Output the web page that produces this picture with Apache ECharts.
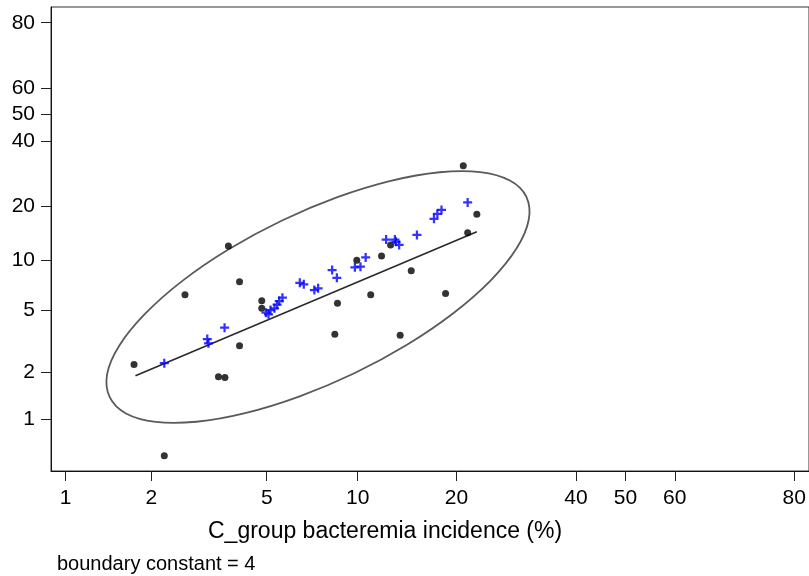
<!DOCTYPE html>
<html>
<head>
<meta charset="utf-8">
<script src="https://cdn.jsdelivr.net/npm/echarts@6/dist/echarts.min.js"></script>
<style>html,body{margin:0;padding:0;background:#fff}#c{width:809px;height:576px}</style>
</head>
<body>
<div id="c"></div>
<script>
// Tick labels (percent)
const xTicks = [1, 2, 5, 10, 20, 40, 50, 60, 80];
const yTicks = [1, 2, 5, 10, 20, 40, 50, 60, 80];

// Black dots (x %, y %)
const dotX = [3.70, 4.04, 2.62, 4.04, 1.74, 3.42, 3.60, 2.22, 4.81, 4.81, 8.60, 8.43, 9.93, 20.9, 22.8, 21.5, 12.7, 11.9, 14.7, 11.0, 18.6, 13.6];
const dotY = [12.1, 7.45, 6.20, 2.97, 2.26, 1.88, 1.86, 0.58, 5.70, 5.11, 5.49, 3.51, 10.0, 31.6, 18.2, 14.4, 12.3, 10.6, 8.68, 6.20, 6.30, 3.46];

// Blue plus markers (x %, y %)
const plusX = [2.22, 3.13, 3.16, 3.59, 4.97, 5.07, 5.15, 5.31, 5.42, 5.51, 5.65, 6.46, 6.66, 7.22, 7.43, 8.26, 8.56, 9.79, 10.2, 10.6, 12.3, 13.1, 13.2, 13.5, 15.3, 17.2, 17.6, 18.1, 21.5];
const plusY = [2.30, 3.28, 3.08, 3.87, 4.80, 4.69, 4.99, 5.11, 5.38, 5.67, 5.95, 7.34, 7.18, 6.63, 6.79, 8.76, 7.87, 9.09, 9.17, 10.4, 13.2, 13.2, 12.8, 12.3, 14.0, 17.2, 18.3, 19.2, 21.0];

// Fitted line endpoints
const fitX = [1.76, 22.8];
const fitY = [1.91, 14.6];

// Ellipse outline (x %, y %)
const ellipseX = [30.73, 31.13, 29.05, 24.92, 19.62, 14.27, 9.75, 6.42, 4.22, 2.87, 2.07, 1.63, 1.43, 1.40, 1.544, 1.90, 2.56, 3.71, 5.61, 8.55, 12.71, 17.87, 23.30, 27.92];
const ellipseY = [22.46, 16.96, 11.75, 7.62, 4.785, 3.018, 1.984, 1.404, 1.097, 0.964, 0.962, 1.091, 1.390, 1.960, 2.976, 4.716, 7.51, 11.60, 16.79, 22.29, 26.91, 29.55, 29.59, 27.02];

const logit = p => { const q = p / 100; return Math.log(q / (1 - q)); };
const inv = v => Math.round(100 / (1 + Math.exp(-v)));
const pts = (xs, ys) => xs.map((x, i) => [logit(x), logit(ys[i])]);

const ell = pts(ellipseX, ellipseY);

const FONT = "'Liberation Sans', Arial, sans-serif";
const chart = echarts.init(document.getElementById('c'));
chart.setOption({
  animation: false,
  backgroundColor: '#fff',
  textStyle: { fontFamily: FONT },
  title: [
    { text: 'C_group bacteremia incidence (%)', left: 203, top: 515,
      textStyle: { fontFamily: FONT, fontSize: 23, fontWeight: 'normal', color: '#000' } },
    { text: 'boundary constant = 4', left: 52, top: 549,
      textStyle: { fontFamily: FONT, fontSize: 20, fontWeight: 'normal', color: '#000' } }
  ],
  grid: { left: 51, top: 7, width: 761, height: 464, show: true, borderColor: '#333', borderWidth: 1, backgroundColor: '#fff' },
  xAxis: {
    type: 'value', min: -4.7153, max: 1.5071,
    axisLine: { onZero: false, lineStyle: { color: '#111', width: 1 } },
    axisTick: { customValues: xTicks.map(logit), length: 10, lineStyle: { color: '#222' } },
    axisLabel: { customValues: xTicks.map(logit), formatter: v => String(inv(v)), fontSize: 21, color: '#000', margin: 17, fontFamily: FONT },
    splitLine: { show: false }
  },
  yAxis: {
    type: 'value', min: -5.3749, max: 1.6236,
    axisLine: { onZero: false, lineStyle: { color: '#111', width: 1 } },
    axisTick: { customValues: yTicks.map(logit), length: 10, lineStyle: { color: '#222' } },
    axisLabel: { customValues: yTicks.map(logit), formatter: v => String(inv(v)), fontSize: 21, color: '#000', margin: 16, fontFamily: FONT },
    splitLine: { show: false }
  },
  series: [
    {
      type: 'custom', coordinateSystem: 'cartesian2d', data: ell, z: 2, silent: true,
      renderItem: (params, api) => {
        if (params.dataIndex !== 0) return null;
        return {
          type: 'polygon',
          shape: { points: ell.map(p => api.coord(p)), smooth: 0.34 },
          style: { fill: 'none', stroke: '#5a5a5a', lineWidth: 1.8 }
        };
      }
    },
    { type: 'line', data: pts(fitX, fitY), symbol: 'none', lineStyle: { color: '#2a2a2a', width: 1.6 }, z: 3 },
    { type: 'scatter', data: pts(dotX, dotY), symbol: 'circle', symbolSize: 7, itemStyle: { color: '#000' }, z: 4 },
    { type: 'scatter', data: pts(plusX, plusY), symbol: 'path://M-4,-1H-1V-4H1V-1H4V1H1V4H-1V1H-4Z', symbolSize: 9, itemStyle: { color: '#0000ff' }, z: 5 }
  ]
});
</script>
</body>
</html>
